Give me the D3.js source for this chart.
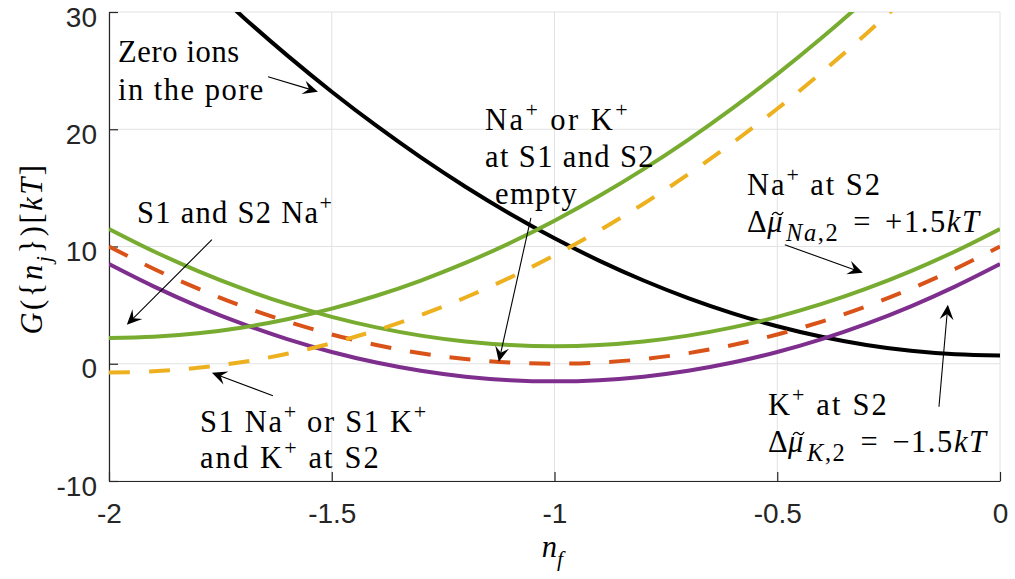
<!DOCTYPE html>
<html><head><meta charset="utf-8">
<script src="https://cdn.jsdelivr.net/npm/d3@7"></script>
<style>body{margin:0;background:#fff}svg{display:block}text{white-space:pre}</style>
</head><body>
<svg id="chart" width="1015" height="579"></svg>
<script>
// ---- data ----
const nf = [-2,-1.9,-1.8,-1.7,-1.6,-1.5,-1.4,-1.3,-1.2,-1.1,-1,-0.9,-0.8,-0.7,-0.6,-0.5,-0.4,-0.3,-0.2,-0.1,0];
const zeroIons   = [40.7,36.8,33.1,29.6,26.3,23.2,20.3,17.6,15.1,12.8,10.7,8.8,7.1,5.6,4.3,3.2,2.3,1.6,1.1,0.8,0.7];
const s1s2Na     = [2.2,2.3,2.6,3.1,3.8,4.7,5.8,7.1,8.6,10.3,12.2,14.3,16.6,19.1,21.8,24.7,27.8,31.1,34.6,38.3,42.2];
const s1KandK2   = [-0.75,-0.65,-0.35,0.15,0.85,1.75,2.85,4.15,5.65,7.35,9.25,11.35,13.65,16.15,18.85,21.75,24.85,28.15,31.65,35.35,39.25];
const naAtS2     = [11.5,9.6,7.9,6.4,5.1,4.0,3.1,2.4,1.9,1.6,1.5,1.6,1.9,2.4,3.1,4.0,5.1,6.4,7.9,9.6,11.5];
const s1s2Empty  = [10,8.1,6.4,4.9,3.6,2.5,1.6,0.9,0.4,0.1,0,0.1,0.4,0.9,1.6,2.5,3.6,4.9,6.4,8.1,10];
const kAtS2      = [8.5,6.6,4.9,3.4,2.1,1.0,0.1,-0.6,-1.1,-1.4,-1.5,-1.4,-1.1,-0.6,0.1,1.0,2.1,3.4,4.9,6.6,8.5];
const xTicks = [-2,-1.5,-1,-0.5,0];
const xTickLabels = ["-2","-1.5","-1","-0.5","0"];
const yTicks = [-10,0,10,20,30];
const yTickLabels = ["-10","0","10","20","30"];

// ---- layout ----
const L = 109, R = 1000, T = 12, B = 481;
const svg = d3.select("#chart");
const x = d3.scaleLinear().domain([-2,0]).range([L,R]);
const y = d3.scaleLinear().domain([-10,30]).range([B,T]);
const axisColor = "#262626";
const sans = "'Liberation Sans', Arial, sans-serif";
const serif = "'Liberation Serif', 'Times New Roman', serif";

// grid
const grid = svg.append("g");
grid.selectAll(".gx").data(xTicks).join("line")
  .attr("x1", d=>x(d)).attr("x2", d=>x(d)).attr("y1", T).attr("y2", B)
  .attr("stroke", "#e2e2e2").attr("stroke-width", 1);
grid.selectAll(".gy").data(yTicks).join("line")
  .attr("x1", L).attr("x2", R).attr("y1", d=>y(d)).attr("y2", d=>y(d))
  .attr("stroke", "#e2e2e2").attr("stroke-width", 1);

// axes
const xAxis = d3.axisBottom(x).tickValues(xTicks).tickFormat((d,i)=>xTickLabels[i])
  .tickSizeInner(-9).tickSizeOuter(0).tickPadding(22);
const yAxis = d3.axisLeft(y).tickValues(yTicks).tickFormat((d,i)=>yTickLabels[i])
  .tickSizeInner(-9).tickSizeOuter(0).tickPadding(12);
const gx = svg.append("g").attr("transform", `translate(0,${B})`).call(xAxis);
const gy = svg.append("g").attr("transform", `translate(${L},0)`).call(yAxis);
[gx, gy].forEach(g => {
  g.select(".domain").attr("stroke", axisColor).attr("stroke-width", 1.2);
  g.selectAll(".tick line").attr("stroke", axisColor).attr("stroke-width", 1.2);
  g.selectAll(".tick text").attr("fill", axisColor).attr("font-family", sans).attr("font-size", 28);
});
gy.selectAll(".tick text").attr("dy", "0.5em");

// clip
svg.append("clipPath").attr("id","clip").append("rect")
  .attr("x", L).attr("y", T).attr("width", R-L).attr("height", B-T);

const line = d3.line().x((d,i)=>x(nf[i])).y(d=>y(d)).curve(d3.curveCatmullRom);
const series = [
  {v: zeroIons,  c: "#000000", dash: null},
  {v: kAtS2,     c: "#7E2F8E", dash: null},
  {v: naAtS2,    c: "#77AC30", dash: null},
  {v: s1s2Empty, c: "#D95319", dash: "21,19"},
  {v: s1s2Na,    c: "#77AC30", dash: null},
  {v: s1KandK2,  c: "#EDB120", dash: "21,19"},
];
const lg = svg.append("g").attr("clip-path","url(#clip)");
series.forEach(s => {
  lg.append("path").attr("d", line(s.v)).attr("fill","none")
    .attr("stroke", s.c).attr("stroke-width", 4)
    .attr("stroke-dasharray", s.dash);
});

// rich text helper
const FS = 30.5;
function rich(sel, segs, size) {
  let shift = 0;
  segs.forEach(s => {
    const target = s.sup ? -0.42*size : s.sub ? 0.3*size : 0;
    const ts = sel.append("tspan").text(s.t)
      .attr("dy", target - shift)
      .attr("font-size", (s.sup||s.sub) ? size*(s.fs||0.72) : size);
    if (s.it) ts.attr("font-style","italic");
    if (s.dx) ts.attr("dx", s.dx);
    shift = target;
  });
}
function fitWidth(t, target) {
  const n = t.node().textContent.length;
  let ls = 0;
  for (let k = 0; k < 3; k++) {
    const w = t.node().getBBox().width;
    ls += (target - w) / n;
    t.attr("letter-spacing", ls);
  }
}
function addTilde(t, idx) {
  const node = t.node();
  const ext = node.getExtentOfChar(idx);
  const pos = node.getStartPositionOfChar(idx);
  const cx = ext.x + ext.width/2 + 2, cy = pos.y - FS*0.6;
  svg.append("path")
    .attr("d", `M${cx-5.5},${cy+1.5} C${cx-3.5},${cy-2.5} ${cx-1},${cy-1} ${cx},${cy} S${cx+3.5},${cy+2.5} ${cx+5.5},${cy-1.5}`)
    .attr("fill","none").attr("stroke","#000").attr("stroke-width",1.4);
}
function label(xd, yd, lines, dyPx) {
  lines.forEach((ln, i) => {
    const t = svg.append("text").attr("x", x(xd) + (ln.indent||0)).attr("y", y(yd) + i*dyPx)
      .attr("font-family", serif).attr("font-size", FS).attr("fill", "#000");
    rich(t, ln.segs, FS);
    if (ln.w) fitWidth(t, ln.w);
    if (ln.ls != null) t.attr("letter-spacing", ln.ls);
    if (ln.tilde != null) addTilde(t, ln.tilde);
  });
}
function arrow(x1, y1, x2, y2) {
  const X1 = x(x1), Y1 = y(y1), X2 = x(x2), Y2 = y(y2);
  const ang = Math.atan2(Y2-Y1, X2-X1);
  const hl = 15, hw = 7;
  svg.append("line").attr("x1", X1).attr("y1", Y1)
    .attr("x2", X2 - Math.cos(ang)*hl*0.6).attr("y2", Y2 - Math.sin(ang)*hl*0.6)
    .attr("stroke","#000").attr("stroke-width",1.1);
  const pts = [[0,0],[-hl,-hw],[-hl*0.62,0],[-hl,hw]].map(([a,b]) =>
    [X2 + a*Math.cos(ang) - b*Math.sin(ang), Y2 + a*Math.sin(ang) + b*Math.cos(ang)]);
  svg.append("path").attr("d", "M" + pts.map(p=>p.join(",")).join("L") + "Z").attr("fill","#000");
}

// annotations (data coordinates)
label(-1.980, 25.76, [
  {segs:[{t:"Zero ions"}], w:122},
  {segs:[{t:"in the pore"}], w:147}], 38);
arrow(-1.643, 24.48, -1.531, 23.2);

label(-1.937, 12.0, [
  {segs:[{t:"S1 and S2 Na"},{t:"+",sup:true}], w:196}], 38);
arrow(-1.769, 10.58, -1.960, 3.33);

label(-1.156, 19.96, [
  {segs:[{t:"Na"},{t:"+",sup:true},{t:" or K"},{t:"+",sup:true}], w:145},
  {segs:[{t:"at S1 and S2"}], w:170},
  {segs:[{t:"empty"}], indent:10, w:83}], 37);
arrow(-1.053, 12.45, -1.125, 0.17);

label(-0.568, 14.41, [
  {segs:[{t:"Na"},{t:"+",sup:true},{t:" at S2"}], w:135},
  {segs:[{t:"Δ"},{t:"μ",it:true,dx:-1},{t:"Na",it:true,sub:true,dx:2,fs:0.8},{t:",2",sub:true,fs:0.8},
         {t:"=",dx:14},{t:"+1.5",dx:13},{t:"kT",it:true}], ls:1.6, tilde:1}], 37);
arrow(-0.483, 10.15, -0.308, 7.76);

label(-0.521, -4.35, [
  {segs:[{t:"K"},{t:"+",sup:true},{t:" at S2"}], w:121},
  {segs:[{t:"Δ"},{t:"μ",it:true,dx:-1},{t:"K",it:true,sub:true,dx:2,fs:0.8},{t:",2",sub:true,fs:0.8},
         {t:"=",dx:14},{t:"−1.5",dx:13},{t:"kT",it:true}], ls:1.6, tilde:1}], 37);
arrow(-0.137, -3.67, -0.117, 5.03);

label(-1.796, -5.80, [
  {segs:[{t:"S1 Na"},{t:"+",sup:true},{t:" or S1 K"},{t:"+",sup:true}], w:228},
  {segs:[{t:"and K"},{t:"+",sup:true},{t:" at S2"}], w:181}], 36);
arrow(-1.632, -2.73, -1.769, -0.77);

// axis labels
const yl = svg.append("text").attr("transform", `translate(42,${(T+B)/2 + 2}) rotate(-90)`)
  .attr("text-anchor","middle").attr("font-family", serif).attr("font-size", FS);
rich(yl, [{t:"G",it:true},{t:"({"},{t:"n",it:true},{t:"j",it:true,sub:true},{t:"})["},{t:"kT",it:true},{t:"]"}], FS);
fitWidth(yl, 172);
const xl = svg.append("text").attr("x", (L+R)/2 - 2).attr("y", 557)
  .attr("text-anchor","middle").attr("font-family", serif).attr("font-size", FS);
rich(xl, [{t:"n",it:true},{t:"f",it:true,sub:true}], FS);
</script>
</body></html>
